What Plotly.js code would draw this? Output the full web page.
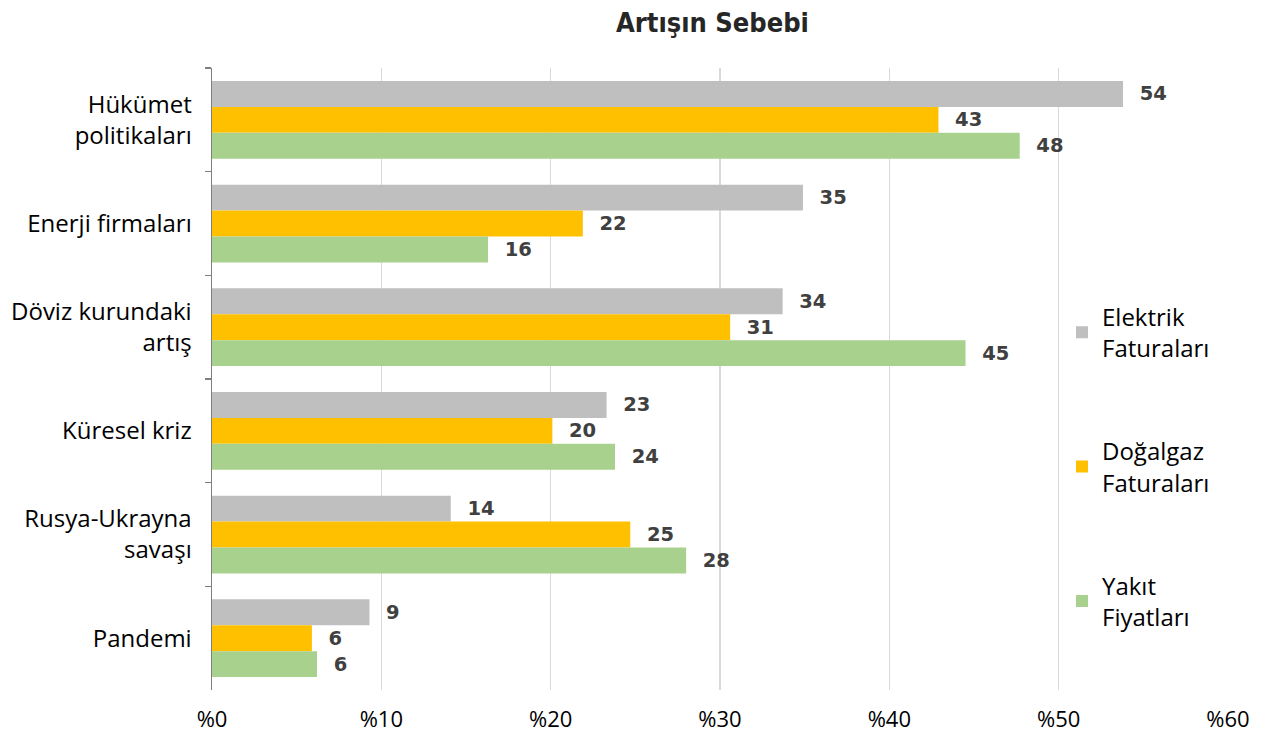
<!DOCTYPE html>
<html>
<head>
<meta charset="utf-8">
<script src="https://cdn.plot.ly/plotly-3.0.1.min.js"></script>
<style>html,body{margin:0;padding:0;background:#fff;}#chart{width:1261px;height:738px;}</style>
</head>
<body>
<div id="chart"></div>
<script>
const categories = ["Hükümet<br>politikaları", "Enerji firmaları", "Döviz kurundaki<br>artış", "Küresel kriz", "Rusya-Ukrayna<br>savaşı", "Pandemi"];
const seriesNames = ["Elektrik<br>Faturaları", "Doğalgaz<br>Faturaları", "Yakıt<br>Fiyatları"];
const elektrik = [53.8, 34.9, 33.7, 23.3, 14.1, 9.3];
const dogalgaz = [42.9, 21.9, 30.6, 20.1, 24.7, 5.9];
const yakit = [47.7, 16.3, 44.5, 23.8, 28.0, 6.2];
const elektrikLabels = [54, 35, 34, 23, 14, 9];
const dogalgazLabels = [43, 22, 31, 20, 25, 6];
const yakitLabels = [48, 16, 45, 24, 28, 6];
const xTickVals = [0, 10, 20, 30, 40, 50, 60];
const xTickText = ["%0", "%10", "%20", "%30", "%40", "%50", "%60"];
const colors = ["#bfbfbf", "#ffc000", "#a9d18e"];

const values = [elektrik, dogalgaz, yakit];
const labels = [elektrikLabels, dogalgazLabels, yakitLabels];

const traces = values.map((v, i) => ({
  type: "bar",
  orientation: "h",
  name: seriesNames[i],
  y: categories,
  x: v,
  text: labels[i].map(l => "\u2002\u2009" + l),
  textposition: "outside",
  textfont: {family: "DejaVu Sans", size: 19.5, color: "#404040", weight: "bold"},
  marker: {color: colors[i]},
  legendgroup: "g" + i,
  hoverinfo: "none",
  cliponaxis: false
}));

const layout = {
  width: 1261,
  height: 738,
  margin: {l: 212, r: 33, t: 68, b: 48},
  paper_bgcolor: "#ffffff",
  plot_bgcolor: "#ffffff",
  barmode: "group",
  bargap: 0.25,
  bargroupgap: 0,
  title: {
    text: "<b>Artışın Sebebi</b>",
    x: 0.565, xanchor: "center", xref: "container",
    y: 0.97, yanchor: "middle",
    font: {family: "DejaVu Sans Condensed, sans-serif", size: 27, color: "#262626"}
  },
  xaxis: {
    range: [0, 60],
    tickvals: xTickVals,
    ticktext: xTickText,
    showgrid: true,
    gridcolor: "#d9d9d9",
    gridwidth: 1.5,
    zeroline: false,
    showline: false,
    ticks: "",
    ticklabelstandoff: 14,
    tickfont: {family: "Open Sans, sans-serif", size: 22, color: "#000000"},
    fixedrange: true
  },
  yaxis: {
    autorange: "reversed",
    type: "category",
    tickson: "boundaries",
    ticks: "outside",
    ticklen: 6,
    tickcolor: "#7f7f7f",
    tickwidth: 1.5,
    showline: true,
    linecolor: "#7f7f7f",
    linewidth: 1.5,
    showgrid: false,
    ticklabelstandoff: 14,
    tickfont: {family: "Open Sans, sans-serif", size: 24, color: "#000000"},
    fixedrange: true
  },
  legend: {
    x: (1062 - 212) / 1016, xref: "paper", xanchor: "left",
    y: (690 - 467) / 622, yanchor: "middle", yref: "paper",
    bgcolor: "rgba(0,0,0,0)",
    traceorder: "grouped",
    tracegroupgap: 69,
    itemwidth: 30,
    font: {family: "Open Sans, sans-serif", size: 24, color: "#000000"}
  },
  showlegend: true,
  hovermode: false
};

Plotly.newPlot("chart", traces, layout, {displayModeBar: false, staticPlot: true});
</script>
</body>
</html>
